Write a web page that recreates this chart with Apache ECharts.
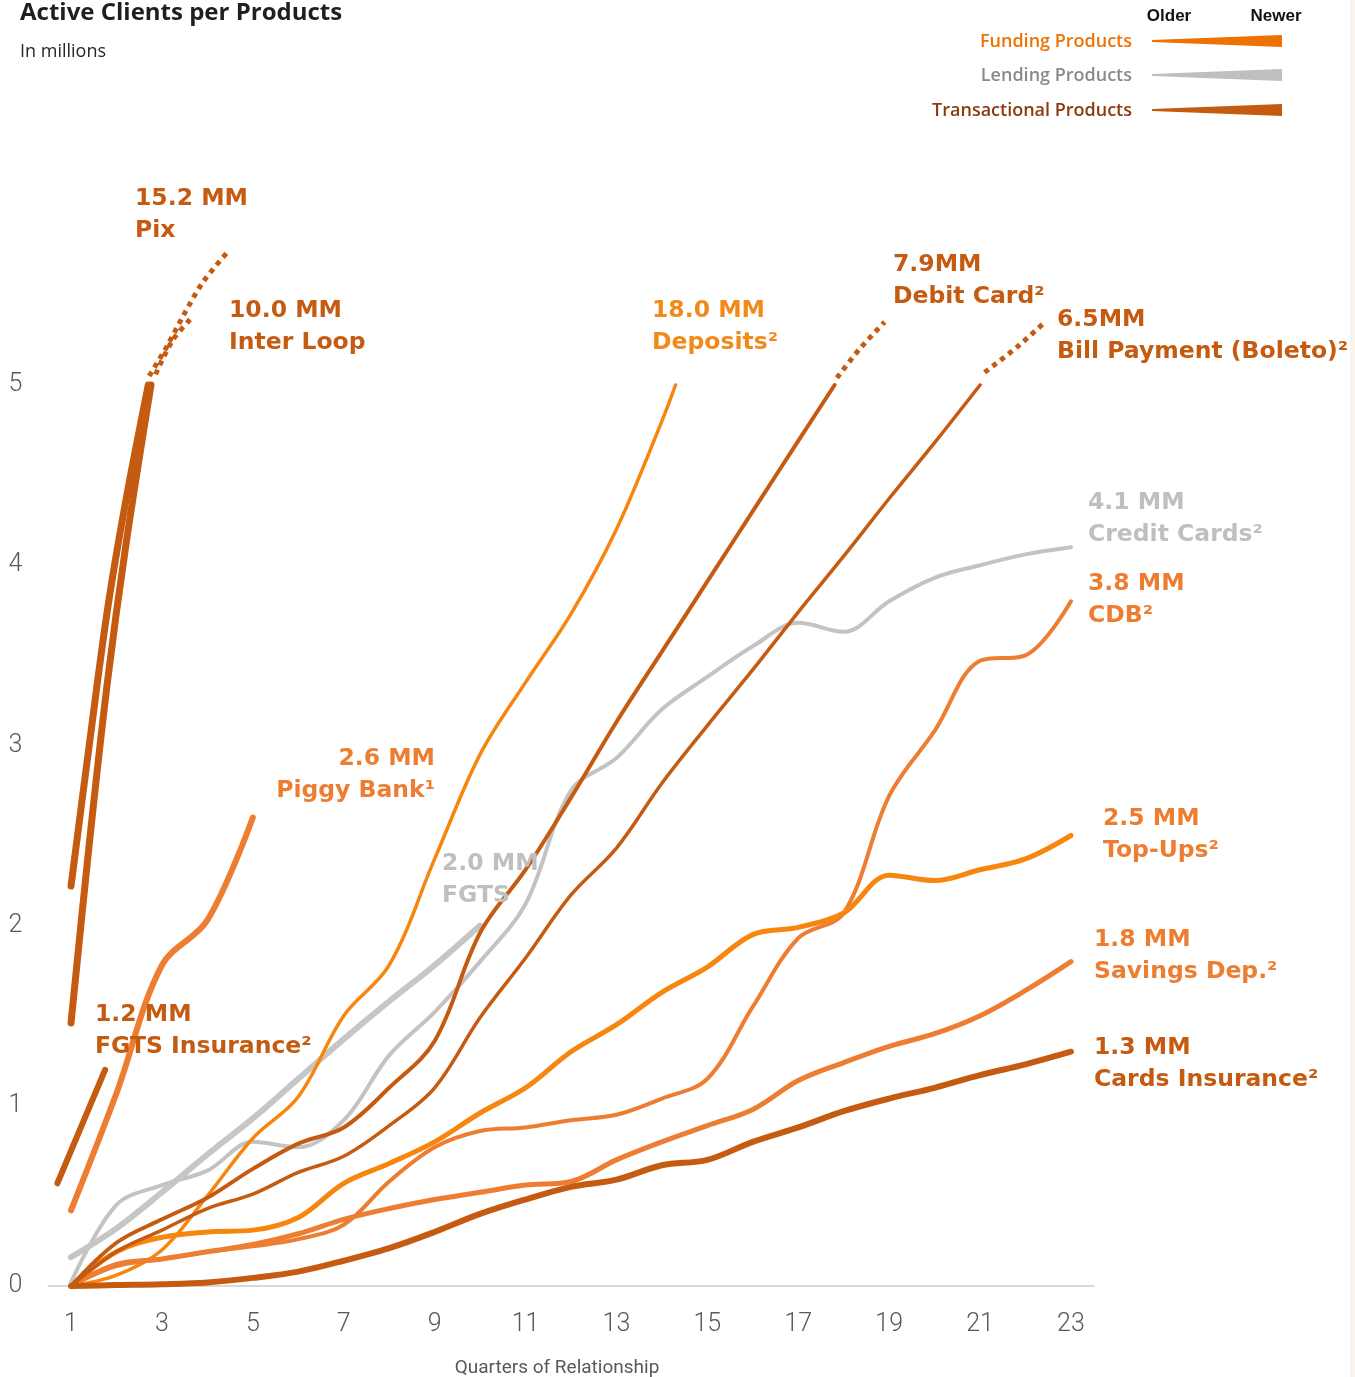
<!DOCTYPE html>
<html>
<head>
<meta charset="utf-8">
<script src="https://cdn.jsdelivr.net/npm/echarts@6/dist/echarts.min.js"></script>
<style>
  html, body { margin: 0; padding: 0; background: #ffffff; }
  #chart { width: 1355px; height: 1377px; }
</style>
</head>
<body>
<div id="chart"></div>
<script>
// Quarters of relationship (x axis) and tick labels
const quarters = [1, 2, 3, 4, 5, 6, 7, 8, 9, 10, 11, 12, 13, 14, 15, 16, 17, 18, 19, 20, 21, 22, 23];
const xTickLabels = [1, 3, 5, 7, 9, 11, 13, 15, 17, 19, 21, 23];
const yTickLabels = [0, 1, 2, 3, 4, 5];

// Active clients, in millions, per product and quarter
// Transactional products
const pixQuarters = [1, 1.4, 1.8, 2.2, 2.7];
const pix = [2.22, 3.0, 3.75, 4.35, 5.0];
const pixBreakQuarters = [2.72, 3.1, 3.46, 3.9, 4.45];
const pixBreak = [5.05, 5.21, 5.38, 5.57, 5.74];

const interLoopQuarters = [1, 1.4, 1.8, 2.2, 2.76];
const interLoop = [1.46, 2.45, 3.35, 4.1, 5.0];
const interLoopBreakQuarters = [2.86, 3.24, 3.68];
const interLoopBreak = [5.06, 5.25, 5.38];

const fgtsInsuranceQuarters = [0.7, 1.75];
const fgtsInsurance = [0.57, 1.2];

const debitCard = [0, 0.24, 0.37, 0.49, 0.65, 0.79, 0.88, 1.1, 1.36, 1.96, 2.31, 2.71, 3.13, 3.52, 3.91, 4.3, 4.69];
const debitCardEndQuarter = 17.8;
const debitCardEnd = 5.0;
const debitCardBreakQuarters = [17.85, 18.35, 18.9];
const debitCardBreak = [5.04, 5.2, 5.35];

const billPayment = [0, 0.19, 0.31, 0.43, 0.51, 0.63, 0.72, 0.89, 1.1, 1.49, 1.82, 2.17, 2.43, 2.79, 3.11, 3.42, 3.74, 4.05, 4.37, 4.68, 5.0];
const billPaymentBreakQuarters = [21.1, 21.81, 22.43];
const billPaymentBreak = [5.07, 5.21, 5.35];

const cardsInsurance = [0, 0.005, 0.01, 0.02, 0.045, 0.08, 0.14, 0.21, 0.3, 0.4, 0.48, 0.55, 0.59, 0.67, 0.7, 0.8, 0.88, 0.97, 1.04, 1.1, 1.17, 1.23, 1.3];

// Funding products
const deposits = [0, 0.06, 0.2, 0.5, 0.82, 1.05, 1.5, 1.78, 2.37, 2.95, 3.35, 3.73, 4.2, 4.8];
const depositsEndQuarter = 14.3;
const depositsEnd = 5.0;

const piggyBank = [0.42, 1.07, 1.78, 2.03, 2.6];

const cdb = [0, 0.11, 0.15, 0.19, 0.22, 0.26, 0.34, 0.58, 0.77, 0.86, 0.88, 0.92, 0.95, 1.04, 1.15, 1.55, 1.93, 2.07, 2.72, 3.08, 3.47, 3.5, 3.8];

const topUps = [0, 0.19, 0.27, 0.3, 0.31, 0.38, 0.57, 0.68, 0.8, 0.96, 1.1, 1.3, 1.45, 1.63, 1.77, 1.95, 1.99, 2.07, 2.28, 2.25, 2.31, 2.37, 2.5];

const savingsDep = [0, 0.12, 0.15, 0.19, 0.23, 0.29, 0.37, 0.43, 0.48, 0.52, 0.56, 0.58, 0.7, 0.8, 0.89, 0.98, 1.14, 1.24, 1.33, 1.4, 1.5, 1.64, 1.8];

// Lending products
const creditCards = [0.02, 0.45, 0.56, 0.64, 0.8, 0.77, 0.92, 1.28, 1.52, 1.8, 2.12, 2.75, 2.93, 3.2, 3.38, 3.55, 3.68, 3.63, 3.8, 3.93, 4.0, 4.06, 4.1];
const fgts = [0.16, 0.32, 0.52, 0.73, 0.93, 1.15, 1.37, 1.58, 1.78, 2.0];

// End-of-line annotations (value line, product line)
const endLabels = [
  { value: '15.2 MM', name: 'Pix' },
  { value: '10.0 MM', name: 'Inter Loop' },
  { value: '18.0 MM', name: 'Deposits²' },
  { value: '7.9MM', name: 'Debit Card²' },
  { value: '6.5MM', name: 'Bill Payment (Boleto)²' },
  { value: '4.1 MM', name: 'Credit Cards²' },
  { value: '3.8 MM', name: 'CDB²' },
  { value: '2.5 MM', name: 'Top-Ups²' },
  { value: '1.8 MM', name: 'Savings Dep.²' },
  { value: '1.3 MM', name: 'Cards Insurance²' },
  { value: '2.6 MM', name: 'Piggy Bank¹' },
  { value: '2.0 MM', name: 'FGTS' },
  { value: '1.2 MM', name: 'FGTS Insurance²' }
];

const legendItems = ['Funding Products', 'Lending Products', 'Transactional Products'];

// ---- styling ----
const C_TRANS = '#C55A11';
const C_FUND_BRIGHT = '#F7860F';
const C_FUND = '#ED7D31';
const C_LEND = '#C6C6C6';

// label placement: [x, y of first line, align, colour]
const labelLayout = [
  [135, 199, 'left', C_TRANS],
  [229, 311, 'left', C_TRANS],
  [652, 311, 'left', '#F28A1A'],
  [893, 265, 'left', C_TRANS],
  [1057, 320, 'left', C_TRANS],
  [1088, 503, 'left', '#BFBFBF'],
  [1088, 584, 'left', C_FUND],
  [1103, 819, 'left', C_FUND],
  [1094, 940, 'left', C_FUND],
  [1094, 1048, 'left', C_TRANS],
  [435, 759, 'right', C_FUND],
  [442, 864, 'left', '#BFBFBF'],
  [95, 1015, 'left', C_TRANS]
];

function pairs(xs, ys) { return ys.map((v, i) => [xs[i], v]); }
function byQuarter(ys) { return pairs(quarters, ys); }

function line(name, data, color, width, z) {
  return {
    name: name, type: 'line', data: data, smooth: 0.35,
    showSymbol: false, symbol: 'none', silent: true, z: z || 2,
    lineStyle: { color: color, width: width, cap: 'round', join: 'round' }
  };
}
function dotted(name, data, color, width) {
  return {
    name: name, type: 'line', data: data, smooth: 0.3,
    showSymbol: false, symbol: 'none', silent: true, z: 3,
    lineStyle: { color: color, width: width, type: [5, 5], cap: 'butt' }
  };
}

const series = [
  line('Credit Cards', byQuarter(creditCards), '#C3C3C3', 4),
  line('FGTS', byQuarter(fgts), C_LEND, 6),
  line('Deposits', byQuarter(deposits).concat([[depositsEndQuarter, depositsEnd]]), C_FUND_BRIGHT, 3.5),
  line('CDB', byQuarter(cdb), C_FUND, 4),
  line('Savings Dep.', byQuarter(savingsDep), C_FUND, 5),
  line('Top-Ups', byQuarter(topUps), C_FUND_BRIGHT, 5),
  line('Piggy Bank', byQuarter(piggyBank), C_FUND, 6),
  line('Bill Payment (Boleto)', byQuarter(billPayment), C_TRANS, 3.5),
  dotted('Bill Payment (Boleto) break', pairs(billPaymentBreakQuarters, billPaymentBreak), C_TRANS, 5),
  line('Debit Card', byQuarter(debitCard).concat([[debitCardEndQuarter, debitCardEnd]]), C_TRANS, 4),
  dotted('Debit Card break', pairs(debitCardBreakQuarters, debitCardBreak), C_TRANS, 5),
  line('Cards Insurance', byQuarter(cardsInsurance), C_TRANS, 6),
  line('Inter Loop', pairs(interLoopQuarters, interLoop), C_TRANS, 7),
  dotted('Inter Loop break', pairs(interLoopBreakQuarters, interLoopBreak), C_TRANS, 5),
  line('Pix', pairs(pixQuarters, pix), C_TRANS, 7),
  dotted('Pix break', pairs(pixBreakQuarters, pixBreak), C_TRANS, 5),
  line('FGTS Insurance', pairs(fgtsInsuranceQuarters, fgtsInsurance), C_TRANS, 6)
];

// ---- annotations drawn as graphic elements ----
const LABEL_FONT = 'bold 23.5px "DejaVu Sans"';
const graphics = [];
// thin page edge on the right (kept behind the text)
graphics.push({
  type: 'rect', silent: true, z: 0,
  shape: { x: 1350, y: 0, width: 5, height: 1377 },
  style: { fill: '#F8F3EC' }
});
graphics.push({
  type: 'text', x: 20, y: 13, silent: true,
  style: { text: 'Active Clients per Products', font: 'bold 24px "Open Sans"', fill: '#1F1F1F',
           align: 'left', verticalAlign: 'middle', textAlign: 'left', textVerticalAlign: 'middle' }
});
graphics.push({
  type: 'text', x: 20, y: 52, silent: true,
  style: { text: 'In millions', font: '18px "Open Sans"', fill: '#262626',
           align: 'left', verticalAlign: 'middle', textAlign: 'left', textVerticalAlign: 'middle' }
});

endLabels.forEach((lab, i) => {
  const [x, y, align, color] = labelLayout[i];
  [lab.value, lab.name].forEach((t, k) => {
    graphics.push({
      type: 'text', x: x, y: y + k * 32, silent: true, z: 10,
      style: { text: t, font: LABEL_FONT, fill: color,
               align: align, verticalAlign: 'middle', textAlign: align, textVerticalAlign: 'middle' }
    });
  });
});

// legend: older -> newer tapered wedges
const legendColors = ['#EE7203', '#BFBFBF', C_TRANS];
const legendTextColors = ['#EE7203', '#8A8A8A', '#8B3A0F'];
const legendY = [41, 75, 110];
['Older', 'Newer'].forEach((t, i) => {
  graphics.push({
    type: 'text', x: i === 0 ? 1169 : 1276, y: 16, silent: true,
    style: { text: t, font: 'bold 17px "Liberation Sans"', fill: '#111111',
             align: 'center', verticalAlign: 'middle', textAlign: 'center', textVerticalAlign: 'middle' }
  });
});
legendItems.forEach((t, i) => {
  const cy = legendY[i];
  graphics.push({
    type: 'text', x: 1132, y: cy + 1, silent: true,
    style: { text: t, font: '600 18px "Open Sans"', fill: legendTextColors[i],
             align: 'right', verticalAlign: 'middle', textAlign: 'right', textVerticalAlign: 'middle' }
  });
  graphics.push({
    type: 'polygon', silent: true,
    shape: { points: [[1152, cy - 1], [1282, cy - 6], [1282, cy + 6], [1152, cy + 1]] },
    style: { fill: legendColors[i] }
  });
});

const chart = echarts.init(document.getElementById('chart'), null, { renderer: 'canvas' });
chart.setOption({
  animation: false,
  backgroundColor: '#ffffff',
  grid: { left: 48.3, right: 261.3, top: 24.6, bottom: 91, containLabel: false, outerBoundsMode: 'none' },
  xAxis: {
    type: 'value', min: 0.5, max: 23.5,
    name: 'Quarters of Relationship', nameLocation: 'middle', nameGap: 73,
    nameTextStyle: { fontFamily: 'Roboto', fontSize: 19, color: '#595959', padding: [0, 28, 0, 0] },
    axisLine: { show: true, lineStyle: { color: '#D9D9D9', width: 2 } },
    axisTick: { show: false },
    splitLine: { show: false },
    axisLabel: { customValues: xTickLabels, fontFamily: 'Roboto', fontWeight: 300, fontSize: 25, color: '#595959', margin: 26 }
  },
  yAxis: {
    type: 'value', min: 0, max: 7,
    axisLine: { show: false }, axisTick: { show: false }, splitLine: { show: false },
    axisLabel: { customValues: yTickLabels, fontFamily: 'Roboto', fontWeight: 300, fontSize: 25, color: '#595959', margin: 26 }
  },
  series: series,
  graphic: graphics
});
</script>
</body>
</html>
